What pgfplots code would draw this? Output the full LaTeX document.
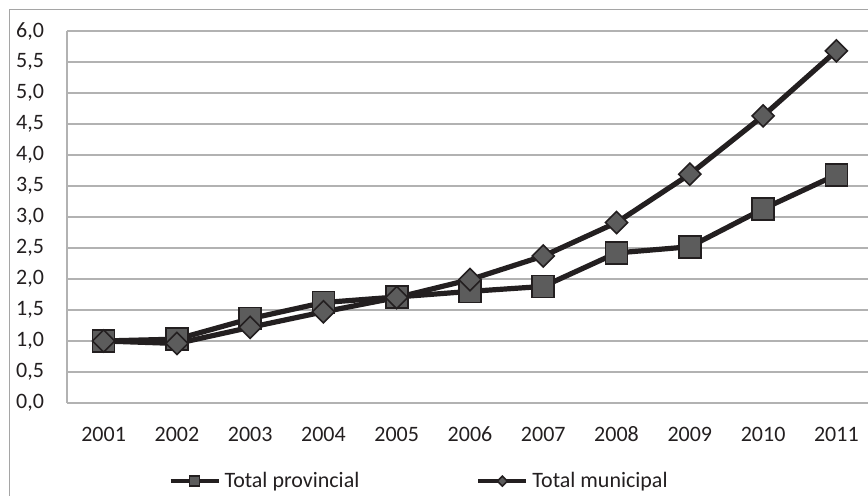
\documentclass[border=0pt]{standalone}
\usepackage{fontspec}
\setmainfont{Carlito}
\usepackage{pgfplots}
\pgfplotsset{compat=1.18}

\definecolor{ink}{RGB}{35,31,32}
\definecolor{markfill}{RGB}{92,92,92}
\definecolor{gridgray}{RGB}{178,178,178}
\definecolor{framegray}{RGB}{165,165,165}

\begin{document}
\begin{tikzpicture}
\begin{axis}[
    name=ax,
    scale only axis,
    width=403pt, height=186pt,
    xmin=-0.5, xmax=10.5,
    ymin=0, ymax=6,
    xtick=data,
    xticklabels={2001,2002,2003,2004,2005,2006,2007,2008,2009,2010,2011},
    ytick={0,0.5,...,6},
    ymajorgrids,
    grid style={gridgray, line width=0.9pt},
    axis x line*=bottom, axis y line*=left,
    axis line style={gridgray, line width=0.9pt, -},
    major tick length=0pt,
    tick label style={font=\fontsize{11}{13}\selectfont, text=ink},
    /pgf/number format/assume math mode=true,
    yticklabel style={/pgf/number format/.cd, fixed, fixed zerofill, precision=1, use comma, /tikz/.cd, anchor=east, xshift=-8pt},
    xticklabel style={anchor=base, yshift=-19.4pt},
    legend columns=2,
    legend style={draw=none, fill=none, at={(0.118,-0.21)}, anchor=west,
        font=\fontsize{11}{13}\selectfont, text=ink,
        /tikz/every even column/.append style={column sep=56.5pt}},
    legend image code/.code={
        \draw[mark repeat=2, mark phase=2, #1, line width=2pt, every mark/.append style={scale=0.45}]
        plot coordinates {(0pt,0pt) (12pt,0pt) (24pt,0pt)};},
    clip=false,
]
\addplot[ink, line width=2.6pt, mark=square*, mark size=5.5pt,
    mark options={fill=markfill, draw=ink, line width=0.8pt}]
    coordinates {(0,1.00) (1,1.03) (2,1.36) (3,1.62) (4,1.71) (5,1.80) (6,1.88) (7,2.42) (8,2.52) (9,3.13) (10,3.68)};
\addlegendentry{Total provincial}
\addplot[ink, line width=2.6pt, mark=square*, mark size=3.9pt,
    mark options={fill=markfill, draw=ink, line width=0.8pt, rotate=45}]
    coordinates {(0,1.00) (1,0.96) (2,1.22) (3,1.47) (4,1.70) (5,1.99) (6,2.37) (7,2.91) (8,3.69) (9,4.63) (10,5.68)};
\addlegendentry{Total municipal}
\end{axis}
\draw[framegray, line width=0.8pt] ([xshift=-28.75pt, yshift=-60pt]ax.south west) -- ([xshift=-28.75pt, yshift=196.75pt]ax.south west) -- ([xshift=420pt, yshift=196.75pt]ax.south west);
\pgfresetboundingbox
\useasboundingbox ([xshift=-33.5pt, yshift=-46.5pt]ax.south west) rectangle ([xshift=400.5pt, yshift=201.5pt]ax.south west);
\end{tikzpicture}
\end{document}
